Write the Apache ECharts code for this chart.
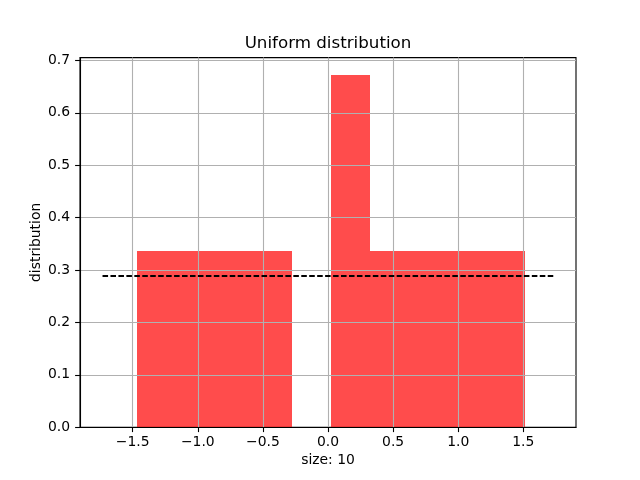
<!DOCTYPE html>
<html>
<head>
<meta charset="utf-8">
<script src="https://cdn.jsdelivr.net/npm/echarts@6/dist/echarts.min.js"></script>
<style>html,body{margin:0;padding:0;background:#fff}#c{width:640px;height:480px}</style>
</head>
<body>
<div id="c"></div>
<script>
// Histogram bin edges
var binEdges = [-1.464, -1.166, -0.869, -0.571, -0.273, 0.024, 0.322, 0.620, 0.917, 1.215, 1.513];
// Density per bin
var densities = [0.336, 0.336, 0.336, 0.336, 0, 0.672, 0.336, 0.336, 0.336, 0.336];
// Reference uniform density line
var refX = [-1.732, 1.732];
var refY = [0.2887, 0.2887];
var xTicks = [-1.5, -1.0, -0.5, 0.0, 0.5, 1.0, 1.5];
var yTicks = [0.0, 0.1, 0.2, 0.3, 0.4, 0.5, 0.6, 0.7];

var histData = [];
for (var i = 0; i < densities.length; i++) {
  histData.push([binEdges[i], binEdges[i + 1], densities[i]]);
}
var refData = refX.map(function (x, i) { return [x, refY[i]]; });

var FONT = 'DejaVu Sans';
function fmt(v) { return v.toFixed(1).replace('-', '\u2212'); }

var chart = echarts.init(document.getElementById('c'), null, { renderer: 'canvas' });
chart.setOption({
  animation: false,
  backgroundColor: '#fff',
  title: {
    text: 'Uniform distribution',
    left: 328, top: 35, textAlign: 'center', padding: 0,
    textStyle: { fontFamily: FONT, fontSize: 16.7, fontWeight: 'normal', color: '#000' }
  },
  grid: {
    left: 80, right: 64, top: 57.6, bottom: 52.8,
    show: true, borderColor: '#000', borderWidth: 1.1, backgroundColor: 'transparent'
  },
  xAxis: {
    type: 'value', min: -1.905, max: 1.905, z: 3,
    name: 'size: 10', nameLocation: 'middle', nameGap: 26, nameMoveOverlap: false,
    nameTextStyle: { fontFamily: FONT, fontSize: 13.9, color: '#000' },
    axisLine: { show: true, onZero: false, lineStyle: { color: '#000', width: 1.1 } },
    axisTick: { show: true, inside: false, length: 4.9, customValues: xTicks, lineStyle: { color: '#000', width: 1.1 } },
    axisLabel: { customValues: xTicks, formatter: fmt, margin: 8, fontFamily: FONT, fontSize: 13.9, color: '#000' },
    splitLine: { show: true, customValues: xTicks, lineStyle: { color: '#b0b0b0', width: 1.1 } }
  },
  yAxis: {
    type: 'value', min: 0, max: 0.7054, z: 3,
    name: 'distribution', nameLocation: 'middle', nameGap: 37, nameMoveOverlap: false,
    nameTextStyle: { fontFamily: FONT, fontSize: 13.9, color: '#000' },
    axisLine: { show: true, onZero: false, lineStyle: { color: '#000', width: 1.1 } },
    axisTick: { show: true, inside: false, length: 4.9, customValues: yTicks, lineStyle: { color: '#000', width: 1.1 } },
    axisLabel: { customValues: yTicks, formatter: fmt, margin: 10, fontFamily: FONT, fontSize: 13.9, color: '#000' },
    splitLine: { show: true, customValues: yTicks, lineStyle: { color: '#b0b0b0', width: 1.1 } }
  },
  series: [
    {
      type: 'custom',
      data: histData,
      encode: { x: [0, 1], y: 2 },
      renderItem: function (params, api) {
        var p0 = api.coord([api.value(0), api.value(2)]);
        var p1 = api.coord([api.value(1), 0]);
        var x0 = Math.round(p0[0]), x1 = Math.round(p1[0]);
        var y0 = Math.round(p0[1]), y1 = Math.round(p1[1]);
        return {
          type: 'rect',
          shape: { x: x0, y: y0, width: x1 - x0, height: y1 - y0 },
          style: { fill: 'rgba(255,0,0,0.7)' }
        };
      },
      z: 2
    },
    {
      type: 'line',
      data: refData,
      symbol: 'none',
      lineStyle: { color: '#000', width: 2, type: [5.55, 2.4] },
      z: 4
    }
  ]
});
</script>
</body>
</html>
